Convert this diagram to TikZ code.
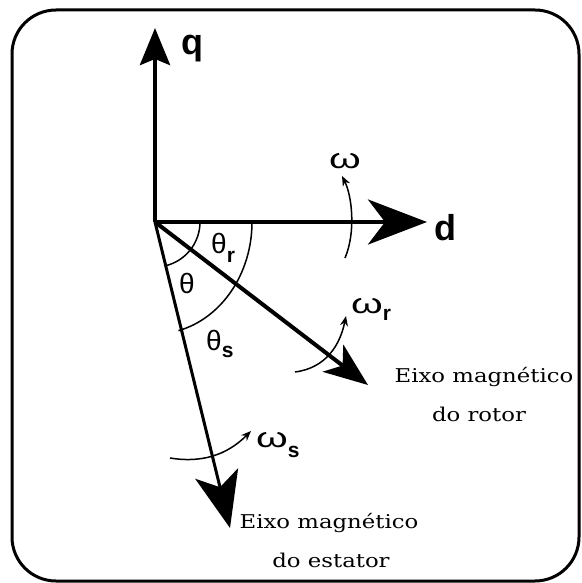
\documentclass[tikz,border=0pt]{standalone}
\usepackage{fontspec}
\usepackage{graphicx}
\setmainfont{Liberation Sans}
\newfontfamily\eixofont[FakeStretch=1.2]{DejaVu Serif}
\usetikzlibrary{arrows.meta}
\newcommand{\omg}{\scalebox{1.45}[1]{ω}}
\begin{document}
\begin{tikzpicture}[x=1pt,y=-1pt,
  axisline/.style={line width=4.5pt},
  thinarc/.style={line width=1.5pt},
  rotarrow/.style={line width=1.5pt,-{Stealth[length=10pt,width=8pt]}},
  biglabel/.style={anchor=base west,inner sep=0pt,font=\bfseries\fontsize{36}{36}\selectfont},
  gklabel/.style={anchor=base west,inner sep=0pt,font=\fontsize{28}{28}\selectfont},
  eixolabel/.style={anchor=base,inner sep=0pt,font=\eixofont\fontsize{19}{19}\selectfont}]
\useasboundingbox (0,0) rectangle (581,583);
\draw[line width=3pt, rounded corners=44pt] (12,10) rectangle (579,581);
% coordinates
\coordinate (O) at (155,222);
\coordinate (qtip) at (155,28);
\coordinate (dtip) at (427,222);
\coordinate (rtip) at (368,385);
\coordinate (stip) at (230,528);
% arcs
\draw[thinarc] (200,222) arc[start angle=0,end angle=76,radius=45];
\draw[thinarc] (252,222) arc[start angle=0,end angle=76,x radius=97,y radius=112];
% axes
\draw[axisline,-{Stealth[length=37pt,width=30pt,inset=6pt]}] (O) -- (qtip);
\draw[axisline,-{Stealth[length=59pt,width=45pt,inset=17pt]}] (O) -- (dtip);
\draw[line width=4pt,-{Stealth[length=44pt,width=34pt,inset=12pt]}] (O) -- (rtip);
\draw[line width=3pt,-{Stealth[length=56pt,width=44pt,inset=14pt]}] (O) -- (stip);
% rotation arrows
\coordinate (w0a) at (345,258);
\coordinate (w0b) at (342,176);
\draw[rotarrow] (w0a) .. controls (356,232) and (352,196) .. (w0b);
\coordinate (wra) at (295,372);
\coordinate (wrb) at (346,316);
\draw[rotarrow] (wra) .. controls (326,368) and (340,345) .. (wrb);
\coordinate (wsa) at (170,458);
\coordinate (wsb) at (251,431);
\draw[rotarrow] (wsa) .. controls (200,463) and (226,456) .. (wsb);
% labels
\node[biglabel] (ql) at (181,55) {q};
\node[biglabel] (dl) at (434,240) {d};
\node[gklabel] (thr) at (211,253) {θ\raisebox{-9pt}{\bfseries\fontsize{21}{21}\selectfont r}};
\node[gklabel] (th) at (179,293) {θ};
\node[gklabel] (ths) at (206,350) {θ\raisebox{-7pt}{\bfseries\fontsize{21}{21}\selectfont s}};
\node[gklabel] (wl) at (329,168) {\omg};
\node[gklabel] (wrl) at (351,313) {\omg\raisebox{-7pt}{\bfseries\fontsize{21}{21}\selectfont r}};
\node[gklabel] (wsl) at (256,447) {\omg\raisebox{-10pt}{\bfseries\fontsize{21}{21}\selectfont s}};
\node[eixolabel] (er1) at (484,382) {Eixo magnético};
\node[eixolabel] (er2) at (479,421) {do rotor};
\node[eixolabel] (es1) at (329,528) {Eixo magnético};
\node[eixolabel] (es2) at (331,567) {do estator};
\end{tikzpicture}
\end{document}
